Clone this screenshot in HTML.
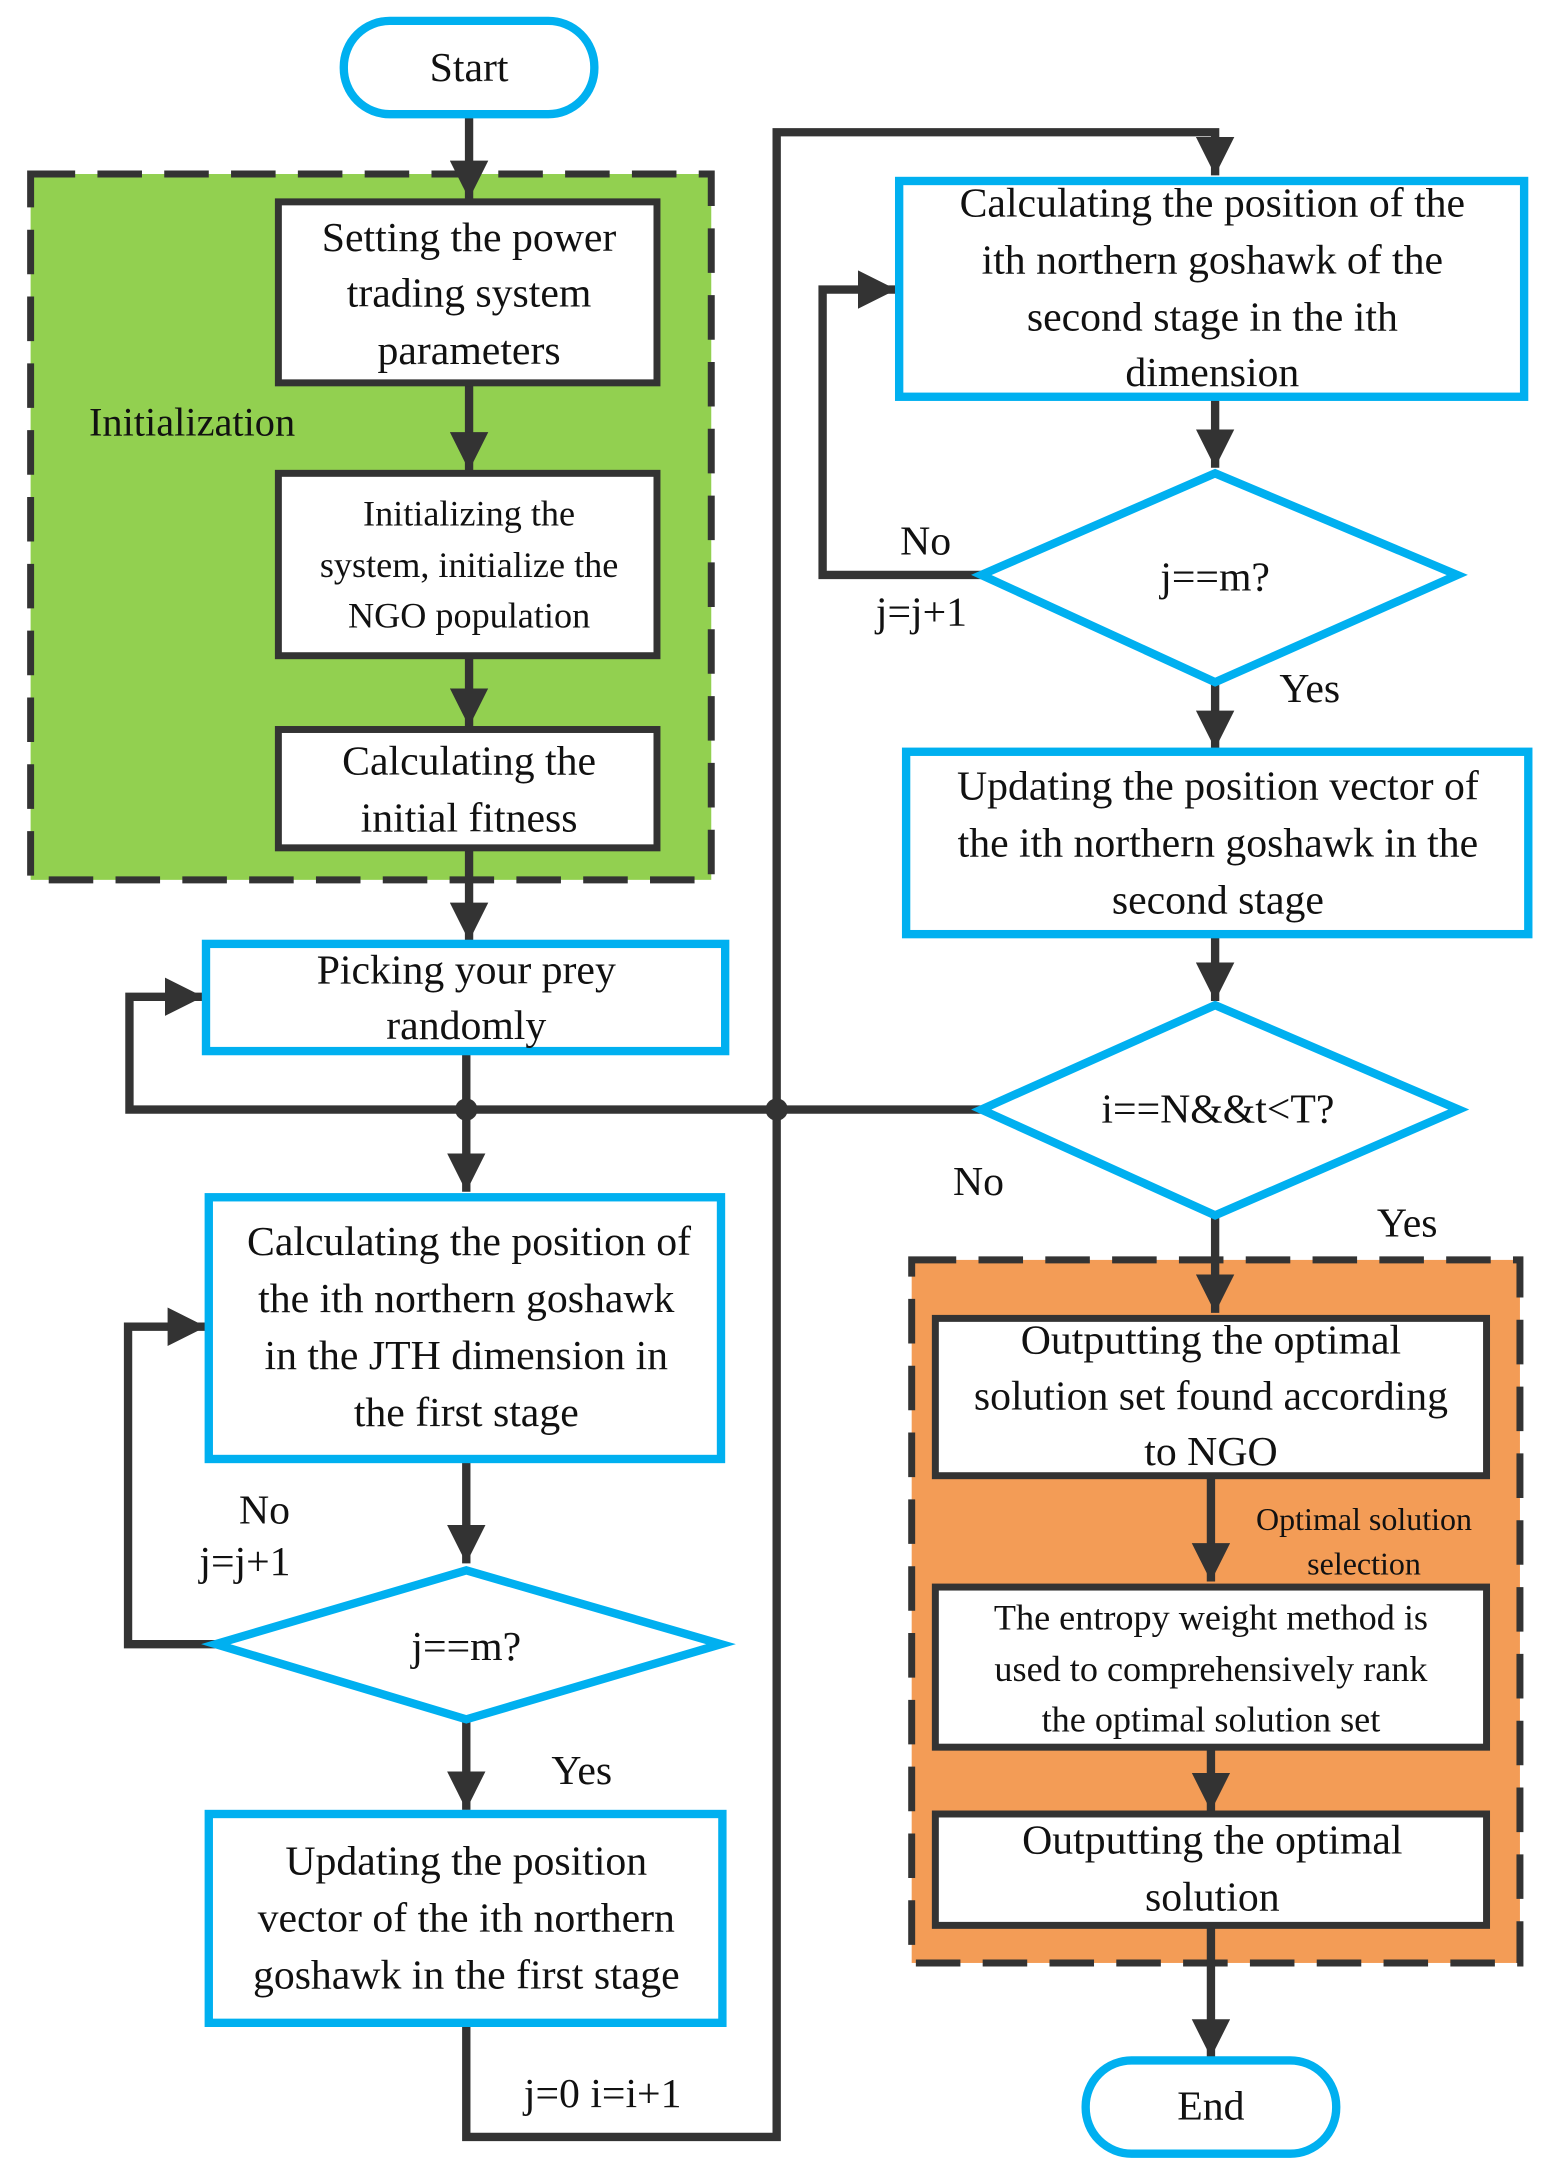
<!DOCTYPE html>
<html><head><meta charset="utf-8"><style>html,body{margin:0;padding:0;background:#fff}svg{display:block}text{font-family:'Liberation Serif','Times New Roman',Times,'DejaVu Serif',serif;fill:#111;text-anchor:middle;dominant-baseline:central}</style></head>
<body>
<svg width="1545" height="2169" viewBox="0 0 1110 1558" preserveAspectRatio="none" xmlns="http://www.w3.org/2000/svg" font-family="Liberation Serif, Times New Roman, serif">
<defs><marker id="a" viewBox="0 0 10 10" refX="10" refY="5" markerWidth="4.6" markerHeight="4.6" markerUnits="strokeWidth" orient="auto"><path d="M0,0L10,5L0,10z" fill="#333"/></marker></defs>
<rect x="22" y="125" width="489" height="507" fill="#92d050" stroke="#333" stroke-width="5" stroke-dasharray="32 16"/>
<rect x="655" y="905" width="437" height="505" fill="#f39c56" stroke="#333" stroke-width="5" stroke-dasharray="32 16"/>
<g stroke="#333" stroke-width="6" fill="none">
<path d="M337,82V143" marker-end="url(#a)"/>
<path d="M337,275V338" marker-end="url(#a)"/>
<path d="M337,471V522" marker-end="url(#a)"/>
<path d="M337,609V676" marker-end="url(#a)"/>
<path d="M335,755V856" marker-end="url(#a)"/>
<path d="M705,797H93V716H146" marker-end="url(#a)"/>
<path d="M335,1453V1535H558V95H873V126" marker-end="url(#a)"/>
<path d="M335,1048V1123" marker-end="url(#a)"/>
<path d="M155,1181H92V953H148" marker-end="url(#a)"/>
<path d="M335,1235V1300" marker-end="url(#a)"/>
<path d="M873,285V336" marker-end="url(#a)"/>
<path d="M705,413H591V208H644" marker-end="url(#a)"/>
<path d="M873,490V538" marker-end="url(#a)"/>
<path d="M873,671V719" marker-end="url(#a)"/>
<path d="M873,873V943" marker-end="url(#a)"/>
<path d="M870,1060V1136" marker-end="url(#a)"/>
<path d="M870,1255V1301" marker-end="url(#a)"/>
<path d="M870,1383V1478" marker-end="url(#a)"/>
</g>
<circle cx="335" cy="797" r="8" fill="#333"/><circle cx="558" cy="797" r="8" fill="#333"/>
<g fill="#fff" stroke="#333" stroke-width="5">
<rect x="200" y="145" width="272" height="130"/>
<rect x="200" y="340" width="272" height="131"/>
<rect x="200" y="524" width="272" height="85"/>
<rect x="672" y="947" width="396" height="113"/>
<rect x="672" y="1140" width="396" height="115"/>
<rect x="672" y="1303" width="396" height="80"/>
</g>
<g fill="#fff" stroke="#00b0f0" stroke-width="6">
<rect x="247" y="15" width="180" height="67" rx="33"/>
<rect x="780" y="1480" width="180" height="67" rx="33"/>
<rect x="148" y="678" width="373" height="77"/>
<rect x="150" y="860" width="368" height="188"/>
<path d="M155,1181L335,1128L518,1181L335,1235Z"/>
<rect x="150" y="1303" width="369" height="150"/>
<rect x="646" y="130" width="449" height="155"/>
<path d="M705,413L873,340L1047,413L873,490Z"/>
<rect x="651" y="540" width="447" height="131"/>
<path d="M705,797L873,722L1048,797L873,873Z"/>
</g>
<g font-size="30">
<text x="337" y="49">Start</text>
<text x="870" y="1513">End</text>
<text x="337" y="171">Setting the power</text><text x="337" y="211">trading system</text><text x="337" y="252">parameters</text>
<text x="138" y="303" font-size="29">Initialization</text>
<text x="337" y="547">Calculating the</text><text x="337" y="588">initial fitness</text>
<text x="335" y="697">Picking your prey</text><text x="335" y="737">randomly</text>
<text x="337" y="892">Calculating the position of</text><text x="335" y="933">the ith northern goshawk</text><text x="335" y="974">in the JTH dimension in</text><text x="335" y="1015">the first stage</text>
<text x="335" y="1183">j==m?</text>
<text x="190" y="1085">No</text><text x="176" y="1122">j=j+1</text><text x="418" y="1272">Yes</text>
<text x="335" y="1337">Updating the position</text><text x="335" y="1378">vector of the ith northern</text><text x="335" y="1419">goshawk in the first stage</text>
<text x="433" y="1504">j=0  i=i+1</text>
<text x="871" y="146">Calculating the position of the</text><text x="871" y="187">ith northern goshawk of the</text><text x="871" y="228">second stage in the ith</text><text x="871" y="268">dimension</text>
<text x="873" y="415">j==m?</text>
<text x="665" y="389">No</text><text x="662" y="440">j=j+1</text><text x="941" y="495">Yes</text>
<text x="875" y="565">Updating the position vector of</text><text x="875" y="606">the ith northern goshawk in the</text><text x="875" y="647">second stage</text>
<text x="875" y="797">i==N&amp;&amp;t&lt;T?</text>
<text x="703" y="849">No</text><text x="1011" y="879">Yes</text>
<text x="870" y="963">Outputting the optimal</text><text x="870" y="1003">solution set found according</text><text x="870" y="1043">to NGO</text>
<text x="871" y="1322">Outputting the optimal</text><text x="871" y="1363">solution</text>
</g>
<g font-size="26">
<text x="337" y="369">Initializing the</text><text x="337" y="406">system, initialize the</text><text x="337" y="442">NGO population</text>
<text x="870" y="1162">The entropy weight method is</text><text x="870" y="1199">used to comprehensively rank</text><text x="870" y="1235">the optimal solution set</text>
</g>
<g font-size="23">
<text x="980" y="1091">Optimal solution</text><text x="980" y="1123">selection</text>
</g>
</svg>
</body></html>
